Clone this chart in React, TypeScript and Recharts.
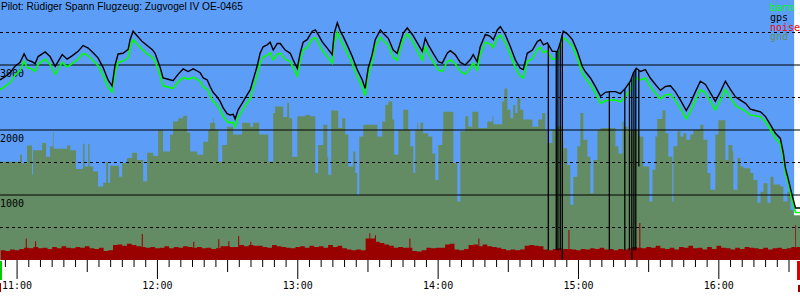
import {
  Area,
  ComposedChart,
  Line,
  ReferenceArea,
  ReferenceLine,
  XAxis,
  YAxis,
} from 'recharts';

// flight: Rüdiger Spann, Zugvogel IV OE-0465 — time in minutes after 11:00
const hourLabels = ['11:00', '12:00', '13:00', '14:00', '15:00', '16:00'];
const solidLevels = [1000, 2000, 3000];
const dashedLevels = [500, 1500, 2500, 3500];

const trackMin = [
  -7.3, -5.1, -3.0, -0.9, 1.3, 3.0, 4.3, 6.4, 7.7, 9.0, 12.0, 14.1, 16.3, 19.3, 21.4, 23.5, 26.1, 28.2, 30.4, 32.5,
  34.6, 36.8, 38.9, 40.6, 41.9, 43.2, 45.3, 47.5, 48.3, 49.6, 51.3, 53.5, 55.6, 57.7, 59.0, 61.2, 62.4, 64.6, 66.7, 68.9,
  71.0, 73.1, 75.3, 77.4, 78.3, 79.6, 81.3, 82.5, 83.8, 85.5, 86.8, 88.1, 89.8, 91.1, 92.4, 93.2, 94.5, 96.2, 97.5, 99.7,
  100.9, 102.6, 103.9, 105.2, 106.9, 108.2, 109.5, 111.2, 112.5, 114.6, 116.8, 118.0, 119.8, 121.0, 122.3, 124.0, 126.2, 127.5, 128.7, 130.4,
  132.6, 134.7, 135.6, 136.9, 138.2, 139.4, 141.1, 143.3, 145.4, 147.6, 148.8, 150.1, 151.8, 153.1, 155.3, 156.5, 158.7, 160.8, 162.5, 163.8,
  165.1, 166.8, 169.0, 171.1, 173.2, 174.5, 175.8, 177.9, 180.1, 181.8, 183.9, 185.2, 187.3, 189.5, 191.6, 193.7, 195.0, 196.7, 198.0, 200.2,
  202.3, 203.6, 205.3, 206.6, 208.7, 210.9, 213.0, 215.1, 216.4, 218.1, 220.3, 222.4, 223.7, 225.0, 226.7, 228.8, 231.0, 232.2, 233.5, 235.2,
  237.4, 239.5, 241.6, 242.9, 245.1, 247.2, 249.4, 251.5, 253.6, 255.8, 257.9, 260.0, 262.2, 263.5, 264.7, 266.5, 268.6, 270.7, 272.9, 275.0,
  277.2, 279.3, 281.4, 283.6, 286.1, 287.8, 290.0, 292.1, 294.3, 296.4, 298.5, 300.7, 302.8, 305.0, 307.1, 309.2, 311.4, 313.5, 315.6, 317.8,
  319.9, 322.1, 324.2, 326.3, 327.6, 328.5, 329.8, 331.5, 332.8, 334.7,
];
const gpsAlt = [
  2770, 2820, 2880, 2980, 3040, 3170, 3080, 3050, 3020, 3130, 3200, 3130, 2980, 3160, 3090, 3140, 3210, 3300, 3260, 3190,
  3110, 2960, 2770, 2680, 3000, 3170, 3180, 3240, 3390, 3520, 3450, 3360, 3300, 3240, 3180, 2960, 2800, 2780, 2760, 2860,
  2940, 2900, 2940, 2900, 2880, 2800, 2770, 2670, 2580, 2510, 2440, 2340, 2250, 2230, 2240, 2170, 2310, 2410, 2490, 2620,
  2770, 2980, 3180, 3280, 3310, 3350, 3230, 3330, 3330, 3230, 3180, 3080, 2950, 3180, 3350, 3390, 3520, 3540, 3470, 3360,
  3260, 3160, 3490, 3650, 3520, 3440, 3310, 3130, 2930, 2770, 2640, 2950, 3160, 3390, 3540, 3490, 3410, 3230, 3180, 3340,
  3490, 3570, 3470, 3340, 3210, 3410, 3310, 3180, 3050, 3030, 3180, 3220, 3160, 3040, 3000, 3080, 3160, 3050, 3280, 3470,
  3440, 3390, 3540, 3590, 3470, 3280, 3080, 2950, 2930, 3180, 3230, 3360, 3390, 3310, 3340, 3210, 3210, 3340, 3520, 3480,
  3390, 3210, 2980, 2900, 2800, 2670, 2520, 2580, 2590, 2590, 2560, 2640, 2750, 2880, 2950, 2900, 2930, 2800, 2700, 2610,
  2670, 2680, 2590, 2460, 2300, 2410, 2590, 2750, 2700, 2570, 2440, 2590, 2750, 2620, 2510, 2460, 2410, 2320, 2300, 2280,
  2210, 2080, 1950, 1870, 1640, 1410, 1230, 970, 800, 800,
];
const baroAlt = [
  2620, 2670, 2730, 2840, 2920, 3060, 2960, 2940, 2900, 3010, 3090, 3010, 2860, 3040, 2970, 3020, 3090, 3180, 3140, 3070,
  2990, 2840, 2660, 2580, 2880, 3040, 3060, 3110, 3260, 3390, 3320, 3240, 3170, 3120, 3060, 2840, 2680, 2660, 2640, 2740,
  2810, 2780, 2810, 2770, 2740, 2660, 2630, 2530, 2440, 2380, 2310, 2210, 2130, 2110, 2120, 2050, 2190, 2290, 2370, 2490,
  2640, 2830, 3030, 3120, 3150, 3190, 3080, 3170, 3180, 3090, 3050, 2960, 2830, 3060, 3230, 3270, 3400, 3420, 3350, 3230,
  3130, 3030, 3350, 3500, 3390, 3310, 3190, 3020, 2820, 2660, 2530, 2840, 3050, 3280, 3430, 3380, 3300, 3120, 3070, 3240,
  3390, 3480, 3370, 3220, 3070, 3280, 3180, 3050, 2920, 2900, 3050, 3080, 3020, 2900, 2860, 2950, 3030, 2920, 3160, 3350,
  3320, 3270, 3420, 3460, 3350, 3160, 2960, 2830, 2800, 3050, 3100, 3240, 3270, 3190, 3220, 3090, 3090, 3230, 3420, 3380,
  3290, 3110, 2880, 2800, 2700, 2570, 2410, 2450, 2460, 2460, 2430, 2510, 2620, 2750, 2800, 2770, 2800, 2670, 2570, 2480,
  2540, 2550, 2460, 2330, 2170, 2280, 2460, 2620, 2570, 2440, 2310, 2460, 2620, 2490, 2380, 2330, 2290, 2230, 2220, 2200,
  2130, 2000, 1870, 1790, 1570, 1340, 1160, 900, 730, 730,
];

// short gps dropouts (vertical black strokes)
const dropMin = [227.1, 230.5, 231.2, 232.2, 233.1, 253.2, 259.8, 261.8, 262.8, 263.7, 264.5, 265.8];
const dropFrom = [3320, 3210, 3220, 3340, 3450, 2590, 2630, 2720, 2800, 2890, 2940, 2920];
const dropTo = [150, 150, 150, 150, 0, 150, 150, 150, 0, 150, 150, 1440];

const gndMin = [
  -7.3, 1.3, 2.1, 4.3, 6.4, 6.8, 10.7, 12.4, 14.1, 15.3, 15.6, 21.4, 22.7, 25.2, 28.2, 28.9, 30.4, 31.0, 32.5, 34.6,
  36.8, 38.1, 38.9, 39.8, 43.6, 44.9, 47.0, 49.2, 51.3, 53.9, 55.6, 58.2, 60.3, 62.4, 65.4, 66.7, 68.9, 71.0, 72.7, 74.0,
  77.0, 79.6, 81.7, 82.5, 83.7, 84.0, 84.7, 86.0, 87.7, 89.8, 92.4, 96.2, 99.7, 100.9, 103.5, 107.4, 109.5, 110.3, 113.8, 115.5,
  116.3, 117.6, 119.8, 123.2, 125.3, 127.5, 128.7, 130.9, 132.6, 133.0, 134.3, 137.3, 139.0, 140.3, 141.6, 143.7, 144.6, 145.4, 146.3, 148.0,
  154.0, 156.1, 157.4, 158.7, 160.4, 161.2, 163.0, 165.1, 167.2, 168.1, 169.4, 170.2, 171.1, 171.5, 172.4, 173.6, 175.8, 177.5, 178.8, 180.1,
  181.8, 182.2, 186.5, 188.2, 189.5, 191.6, 192.9, 194.6, 197.2, 201.0, 203.2, 203.6, 207.4, 208.3, 209.6, 210.9, 212.1, 213.0, 213.9, 215.1,
  216.4, 220.3, 222.8, 224.5, 225.8, 226.7, 228.8, 231.0, 233.1, 233.5, 235.2, 236.5, 237.8, 239.5, 240.8, 242.1, 243.8, 245.1, 246.4, 248.1,
  249.4, 255.8, 257.1, 258.8, 259.4, 260.9, 265.6, 267.7, 270.3, 271.6, 272.9, 273.7, 275.9, 277.2, 278.4, 280.1, 280.6, 282.3, 283.6, 284.9,
  286.1, 287.8, 289.1, 292.1, 293.4, 295.1, 296.4, 298.5, 299.8, 302.8, 304.1, 305.8, 306.2, 308.0, 309.2, 310.5, 313.5, 314.8, 316.5, 317.8,
  319.1, 320.8, 322.1, 323.4, 325.1, 326.3, 327.6, 329.3, 330.6, 331.9, 334.7,
];
const gndAlt = [
  1510, 1620, 1490, 1760, 1310, 1690, 1800, 1590, 1750, 1970, 1710, 1760, 1690, 1400, 1790, 1440, 1780, 1440, 1360, 1130,
  1190, 1500, 1190, 1450, 1280, 1490, 1570, 1650, 1540, 1210, 1650, 1600, 2000, 1670, 1930, 2130, 2180, 2220, 1960, 1670,
  1620, 1820, 2000, 2110, 2190, 2110, 2000, 1510, 1770, 2050, 1930, 2110, 2050, 2110, 1930, 1510, 2260, 2360, 2200, 2420,
  2180, 1590, 2210, 2230, 2210, 1340, 1770, 2080, 1590, 1310, 2300, 2030, 2180, 1930, 1440, 1670, 1340, 1000, 1900, 2080,
  1900, 2130, 2390, 2440, 2160, 1620, 2000, 2310, 2000, 1750, 1340, 2000, 2110, 2000, 2110, 1950, 1900, 1640, 1230, 1770,
  1980, 2280, 1490, 900, 1980, 2210, 2050, 2280, 2030, 2130, 2210, 2090, 2440, 2640, 2310, 2180, 2390, 2260, 2490, 2310,
  2160, 2050, 2160, 2260, 2000, 1800, 2000, 2050, 1850, 1720, 1460, 850, 1280, 1750, 2260, 1850, 1590, 1030, 1540, 2000,
  2030, 1750, 1640, 2130, 2050, 2000, 1900, 1440, 900, 1390, 1900, 2170, 2300, 1950, 1590, 900, 1750, 1980, 1900, 1950,
  1850, 1930, 2000, 2080, 1850, 1340, 1080, 1930, 2150, 1540, 1770, 1670, 1080, 1570, 1440, 1410, 1340, 1230, 880, 1050,
  1180, 880, 1280, 1160, 1160, 1130, 900, 1050, 770, 690, 690,
];

// vario noise, one reading every 2 minutes from 10:53
const noiseStart = -7;
const noiseStep = 2;
const noiseAlt = [
  150, 140, 160, 150, 170, 190, 180, 200, 180, 190, 170, 200, 180, 210, 190, 180, 200, 190, 210, 180,
  170, 190, 140, 150, 230, 240, 220, 250, 230, 210, 200, 190, 200, 180, 190, 210, 180, 200, 190, 210,
  200, 190, 200, 180, 190, 170, 180, 210, 210, 200, 200, 230, 210, 230, 220, 220, 200, 190, 230, 210,
  200, 190, 180, 200, 210, 190, 220, 200, 210, 190, 230, 200, 220, 180, 160, 150, 160, 150, 330, 300,
  280, 260, 240, 220, 190, 200, 190, 190, 140, 130, 150, 190, 180, 190, 190, 240, 250, 160, 150, 170,
  230, 240, 210, 240, 210, 200, 190, 170, 150, 160, 150, 160, 220, 230, 220, 210, 160, 150, 170, 180,
  170, 170, 160, 150, 170, 160, 180, 170, 190, 160, 170, 150, 170, 160, 180, 200, 190, 180, 200, 190,
  220, 180, 170, 190, 160, 200, 190, 220, 180, 190, 160, 200, 170, 220, 190, 180, 160, 190, 170, 200,
  190, 180, 170, 190, 160, 180, 190, 170, 180, 200, 190,
];
// thin single-sample noise peaks
const noisePeakMin = [3.7, 7.7, 53.3, 75.3, 86.0, 90.3, 94.5, 99.7, 150.6, 153.0, 167.7, 197.2, 235.7, 266.0, 332.7];
const noisePeakAlt = [330, 290, 400, 280, 320, 290, 370, 280, 410, 380, 330, 330, 460, 570, 540];

const START = -7.3;
const END = 334.7;

const track = trackMin.map((t, i) => ({ t, gps: gpsAlt[i], baro: baroAlt[i] }));
const gnd = gndMin.map((t, i) => ({ t, v: gndAlt[i] }));

const noiseBase = noiseAlt.map((v, i) => ({ t: noiseStart + i * noiseStep, v }));
noiseBase.push({ t: END, v: noiseAlt[noiseAlt.length - 1] });
const noise = [...noiseBase];
noisePeakMin.forEach((t, i) => {
  const bin = Math.min(noiseAlt.length - 1, Math.floor((t - noiseStart) / noiseStep));
  noise.push({ t, v: noisePeakAlt[i] });
  noise.push({ t: t + 0.45, v: noiseAlt[bin] });
});
noise.sort((a, b) => a.t - b.t);

const timeTicks = Array.from({ length: 68 }, (_, i) => -5 + i * 5);

const mono = '"DejaVu Sans Mono", monospace';

const TimeTick = (props: any) => {
  const { x, y, payload } = props;
  const m = payload.value;
  const len = m % 60 === 0 ? 19 : m % 30 === 0 ? 12 : 7;
  return (
    <g>
      <line x1={x} x2={x} y1={y} y2={y + len} stroke="#000" strokeWidth={1} />
      {m % 60 === 0 && (
        <text x={x} y={y + 29} textAnchor="middle" fontFamily={mono} fontSize={10} fill="#000">
          {hourLabels[m / 60]}
        </text>
      )}
    </g>
  );
};

const levelLabel = (value: number) => (p: any) => (
  <text x={p.viewBox.x} y={p.viewBox.y + 11.5} fontFamily={mono} fontSize={10} fill="#000">
    {value}
  </text>
);

const legendItems = [
  { name: 'baro', color: '#00ff00' },
  { name: 'gps', color: '#000000' },
  { name: 'noise', color: '#ff0000' },
  { name: 'gnd', color: '#648c64' },
];

export default function App() {
  return (
    <div style={{ position: 'absolute', left: 0, top: 0, width: 800, height: 300, background: '#fff' }}>
      <ComposedChart width={800} height={300} margin={{ top: 0, right: 0, bottom: 0, left: 0 }}>
        <XAxis
          dataKey="t"
          type="number"
          domain={[START, END]}
          allowDataOverflow
          ticks={timeTicks}
          interval={0}
          tick={<TimeTick />}
          tickLine={false}
          axisLine={false}
          tickSize={0}
          tickMargin={0}
          height={40}
        />
        <YAxis type="number" domain={[0, 4000]} hide allowDataOverflow />
        <ReferenceArea x1={START} x2={332.2} y1={0} y2={4000} fill="#5c9ef7" fillOpacity={1} stroke="none" />
        <Area
          data={gnd}
          dataKey="v"
          type="stepAfter"
          fill="#648c64"
          fillOpacity={1}
          stroke="none"
          dot={false}
          activeDot={false}
          isAnimationActive={false}
        />
        <Area
          data={noise}
          dataKey="v"
          type="stepAfter"
          fill="#990000"
          fillOpacity={1}
          stroke="none"
          dot={false}
          activeDot={false}
          isAnimationActive={false}
        />
        {dashedLevels.map((v) => (
          <ReferenceLine key={'d' + v} y={v} stroke="#000" strokeDasharray="3 3" strokeWidth={1} />
        ))}
        {solidLevels.map((v) => (
          <ReferenceLine key={'s' + v} y={v} stroke="#000" strokeWidth={1} label={levelLabel(v)} />
        ))}
        <Line
          data={track}
          dataKey="baro"
          type="linear"
          stroke="#00ff00"
          strokeWidth={1.6}
          dot={false}
          activeDot={false}
          isAnimationActive={false}
        />
        <Line
          data={track}
          dataKey="gps"
          type="linear"
          stroke="#000"
          strokeWidth={1.4}
          dot={false}
          activeDot={false}
          isAnimationActive={false}
        />
        {dropMin.map((t, i) => (
          <ReferenceLine
            key={'g' + i}
            segment={[
              { x: t, y: dropFrom[i] },
              { x: t, y: dropTo[i] },
            ]}
            stroke="#000"
            strokeWidth={1.3}
          />
        ))}
      </ComposedChart>
      <svg
        width={800}
        height={300}
        style={{ position: 'absolute', left: 0, top: 0, pointerEvents: 'none' }}
      >
        <text x={1} y={10} fontFamily='"Liberation Sans", Arial, sans-serif' fontSize={10.2} fill="#000">
          Pilot: Rüdiger Spann Flugzeug: Zugvogel IV OE-0465
        </text>
        {legendItems.map((it, i) => (
          <text key={it.name} x={770} y={11 + i * 9.8} fontFamily={mono} fontSize={10} fill={it.color}>
            {it.name}
          </text>
        ))}
        <rect x={0} y={261} width={2} height={19} fill="#00cc00" />
        <rect x={0} y={283} width={1} height={9} fill="#990000" />
        <rect x={797} y={261} width={3} height={19} fill="#dd0000" />
        <rect x={798} y={285} width={2} height={7} fill="#990000" />
      </svg>
    </div>
  );
}
